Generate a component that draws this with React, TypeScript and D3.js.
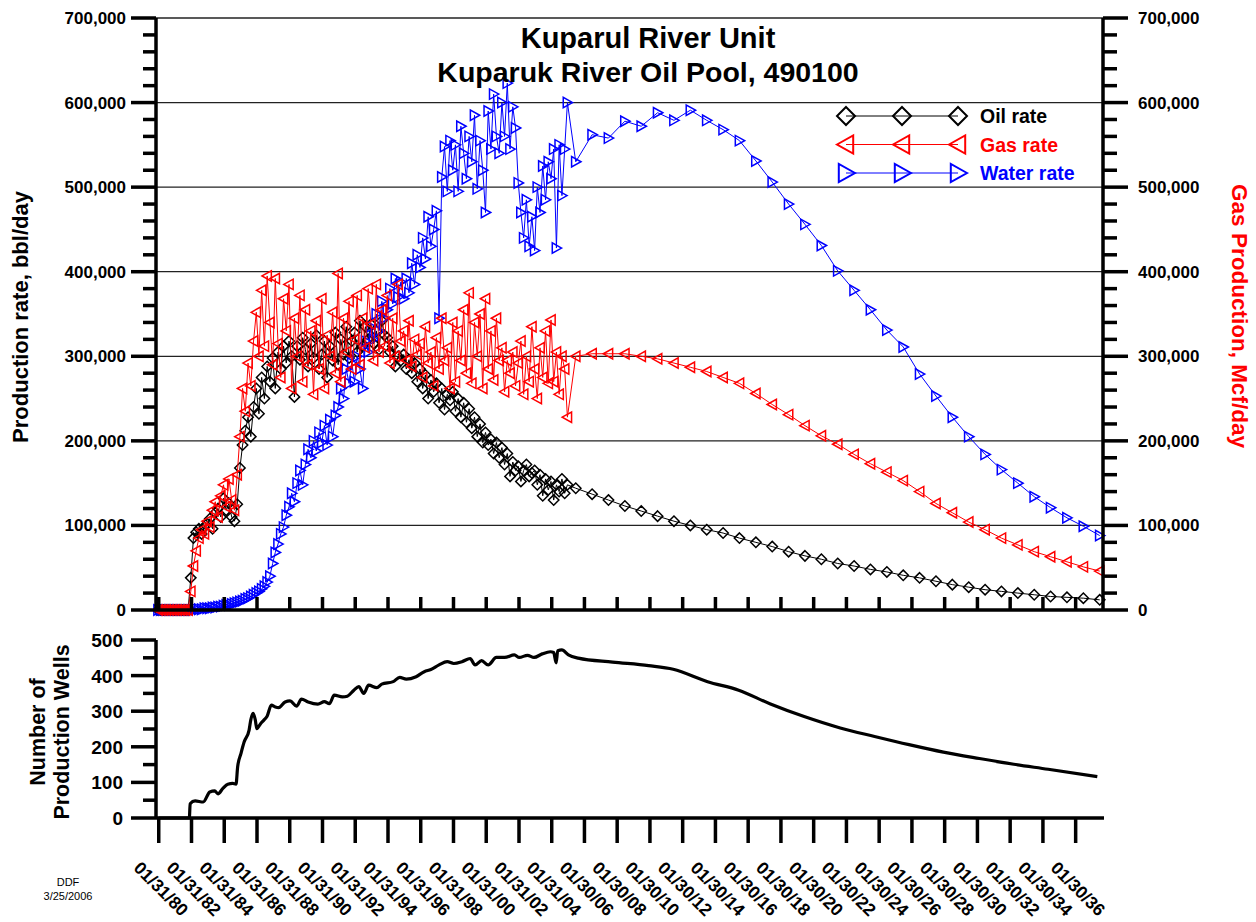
import React, { useEffect, useRef } from "react";
import * as d3 from "d3";

// x tick labels (every two years)
const tickLabels = [
  "01/31/80", "01/31/82", "01/31/84", "01/31/86", "01/31/88", "01/31/90", "01/31/92",
  "01/31/94", "01/31/96", "01/31/98", "01/31/00", "01/31/02", "01/31/04",
  "01/30/06", "01/30/08", "01/30/10", "01/30/12", "01/30/14", "01/30/16", "01/30/18",
  "01/30/20", "01/30/22", "01/30/24", "01/30/26", "01/30/28", "01/30/30", "01/30/32",
  "01/30/34", "01/30/36",
];

// history, one value every two months from Jan 1980 (thousands per day)
const oilHist = [
  0, 0, 0, 0, 0, 0,
  0, 0, 0, 0, 0, 0,
  38, 85, 92, 96, 90, 98,
  102, 108, 96, 115, 120, 110,
  132, 118, 126, 110, 105, 125,
  168, 195, 212, 228, 205, 240,
  262, 232, 275, 250, 288, 270,
  298, 262, 305, 285, 312, 292,
  318, 300, 252, 312, 296, 322,
  308, 288, 315, 298, 325, 285,
  302, 318, 275, 312, 295, 328,
  290, 320, 302, 335, 298, 318,
  328, 305, 342, 312, 335, 320,
  338, 315, 330, 308, 342, 325,
  322, 305, 312, 288, 300, 295,
  302, 285, 296, 280, 292, 270,
  285, 262, 278, 250, 272, 258,
  268, 245, 262, 237, 255, 248,
  258, 235, 250, 228, 245, 222,
  238, 215, 228, 205, 220, 198,
  210, 195, 202, 185, 198, 180,
  192, 172, 185, 158, 175, 165,
  170, 152, 165, 172, 158, 162,
  165, 148, 160, 135, 155, 142,
  152, 130, 148, 140, 155, 138,
  148,
];

const gasHist = [
  0, 0, 0, 0, 0, 0,
  0, 0, 0, 0, 0, 0,
  22, 52, 70, 85, 95, 90,
  105, 98, 118, 128, 110, 135,
  148, 122, 155, 130, 118, 160,
  205, 262, 235, 292, 265, 318,
  352, 300, 378, 312, 395, 340,
  290, 392, 315, 275, 368, 330,
  385, 262, 345, 300, 372, 270,
  355, 290, 330, 255, 342, 285,
  368, 262, 325, 300, 352, 280,
  398, 270, 345, 305, 365, 285,
  320, 372, 290, 345, 310, 380,
  338, 295, 385, 305, 355, 312,
  372, 292, 345, 300, 385, 318,
  330, 295, 342, 288, 320, 302,
  315, 275, 335, 292, 305, 265,
  322, 285, 345, 295, 310, 262,
  340, 270, 330, 295, 355, 280,
  375, 268, 340, 300, 350, 262,
  368, 285, 330, 272, 345, 295,
  310, 258, 295, 280, 305, 265,
  292, 318, 255, 300, 270, 335,
  285, 250, 310, 275, 330, 268,
  343, 270, 305, 255, 300, 285,
  228,
];

const waterHist = [
  0, 0, 0, 0, 0, 0,
  0, 0, 0, 0, 0, 0,
  0, 0, 1, 1, 1, 2,
  2, 2, 3, 3, 4, 4,
  5, 6, 6, 7, 8, 9,
  10, 11, 13, 14, 16, 18,
  20, 22, 25, 28, 33, 40,
  55, 68, 78, 90, 98, 112,
  122, 138, 128, 150, 165, 148,
  172, 190, 180, 200, 188, 210,
  198, 218, 195, 225, 205, 230,
  240, 262, 250, 285, 268, 292,
  270, 300, 285, 262, 318, 305,
  335, 320, 350, 330, 365, 345,
  355, 380, 362, 392, 370, 388,
  368, 392, 375, 410, 385, 420,
  405, 440, 415, 465, 430, 450,
  472, 345, 512, 548, 495, 555,
  520, 550, 495, 572, 540, 510,
  560, 530, 585, 498, 555, 520,
  470, 590, 545, 610, 560, 540,
  600, 560, 623, 545, 595, 570,
  505, 470, 440, 485, 430, 465,
  425, 500, 470, 525, 485, 530,
  510, 545, 428, 550, 490, 545,
  600,
];

// forecast, one value per year from mid 2005
const oilFcst = [
  144, 137, 130, 123, 117, 111, 105, 100, 95, 91, 85, 80, 75, 69, 64, 60, 55,
  52, 48, 45, 41, 38, 34, 30, 27, 24, 22, 20, 18, 16, 15, 14, 12,
];
const gasFcst = [
  300, 303, 303, 303, 300, 297, 292, 287, 282, 275, 268, 256, 243, 231, 218, 206, 196,
  184, 173, 163, 153, 140, 126, 115, 104, 95, 85, 77, 69, 63, 57, 51, 46,
];
const waterFcst = [
  530, 562, 558, 578, 572, 588, 579, 591, 579, 568, 555, 531, 506, 480, 456, 431, 401,
  378, 355, 331, 311, 279, 253, 228, 205, 184, 166, 150, 134, 121, 109, 99, 88,
];

// number of production wells
const wellYears = [
  1980.08, 1981.95, 1982.0, 1982.3, 1982.8, 1983.2, 1983.5, 1983.7, 1984.0, 1984.3,
  1984.6, 1984.8, 1984.9, 1985.1, 1985.3, 1985.6, 1985.7, 1985.84, 1985.98, 1986.07,
  1986.3, 1986.5, 1986.7, 1986.96, 1987.2, 1987.4, 1987.8, 1988.1, 1988.5, 1988.8,
  1989.2, 1989.8, 1990.2, 1990.5, 1990.8, 1991.3, 1991.6, 1992.0, 1992.3, 1992.6,
  1992.9, 1993.4, 1993.7, 1994.4, 1994.8, 1995.2, 1995.8, 1996.3, 1996.7, 1997.2,
  1997.7, 1998.1, 1998.6, 1999.1, 1999.4, 1999.8, 2000.2, 2000.7, 2001.2, 2001.8,
  2002.1, 2002.6, 2003.0, 2003.5, 2004.0, 2004.2, 2004.35, 2004.45, 2004.7, 2005.1,
  2005.7, 2007.8, 2010.0, 2011.5, 2013.6, 2015.5, 2017.4, 2019.5, 2021.7, 2023.8,
  2025.9, 2028.0, 2030.2, 2032.3, 2034.4, 2037.4,
];
const wellCounts = [
  0, 0, 40, 48, 45, 73, 76, 68, 83, 95,
  97, 95, 144, 181, 214, 247, 275, 294, 275, 251,
  265, 275, 286, 317, 312, 310, 326, 329, 314, 334,
  326, 320, 327, 321, 345, 340, 342, 359, 369, 350,
  373, 366, 376, 383, 395, 390, 397, 411, 417, 430,
  439, 434, 439, 448, 430, 442, 430, 451, 451, 458,
  451, 457, 451, 461, 467, 465, 436, 470, 472, 458,
  449, 438, 428, 418, 383, 359, 321, 285, 253, 229,
  206, 185, 167, 151, 137, 116,
];

const FONT = "'Liberation Sans', Arial, Helvetica, sans-serif";

function yearToDate(y: number) {
  const yr = Math.floor(y);
  const a = +new Date(yr, 0, 1);
  const b = +new Date(yr + 1, 0, 1);
  return new Date(a + (y - yr) * (b - a));
}

const diamond = (r: number) => `M0,${-r}L${r},0L0,${r}L${-r},0Z`;
const triLeft = (r: number) => `M${-r},0L${r * 0.8},${-r}L${r * 0.8},${r}Z`;
const triRight = (r: number) => `M${r},0L${-r * 0.8},${-r}L${-r * 0.8},${r}Z`;

export default function App() {
  const ref = useRef<SVGSVGElement>(null);

  useEffect(() => {
    const svg = d3.select(ref.current);
    svg.selectAll("*").remove();

    const x = d3
      .scaleTime()
      .domain([new Date(1979, 11, 1), new Date(2037, 9, 1)])
      .range([156, 1103]);
    const y = d3.scaleLinear().domain([0, 700000]).range([610, 18]);
    const yw = d3.scaleLinear().domain([0, 500]).range([818, 640]);

    const parse = d3.timeParse("%m/%d/%y");
    const tickDates = tickLabels.map(s => parse(s) as Date);

    const histDates = oilHist.map((_, i) => new Date(1980, i * 2, 15));
    const fcstDates = oilFcst.map((_, i) => new Date(2005 + i, 6, 20));

    const build = (hist: number[], fcst: number[]) =>
      hist
        .map((v, i) => ({ d: histDates[i], v: v * 1000 }))
        .concat(fcst.map((v, i) => ({ d: fcstDates[i], v: v * 1000 })));

    const series = [
      { name: "Oil rate", color: "#000000", data: build(oilHist, oilFcst), mark: diamond },
      { name: "Water rate", color: "#0000ff", data: build(waterHist, waterFcst), mark: triRight },
      { name: "Gas rate", color: "#ff0000", data: build(gasHist, gasFcst), mark: triLeft },
    ];

    // grid lines
    const g = svg.append("g");
    g.selectAll(".grid")
      .data(d3.range(100000, 700001, 100000))
      .enter()
      .append("line")
      .attr("x1", 156)
      .attr("x2", 1103)
      .attr("y1", d => y(d))
      .attr("y2", d => y(d))
      .attr("stroke", "#222")
      .attr("stroke-width", 1.3);

    // series
    const line = d3
      .line<{ d: Date; v: number }>()
      .x(p => x(p.d))
      .y(p => y(p.v));

    series.forEach(s => {
      const sg = g.append("g");
      sg.append("path")
        .attr("d", line(s.data))
        .attr("fill", "none")
        .attr("stroke", s.color)
        .attr("stroke-width", 1);
      sg.selectAll("path.m")
        .data(s.data)
        .enter()
        .append("path")
        .attr("class", "m")
        .attr("d", s.mark(5.2))
        .attr("transform", p => `translate(${x(p.d)},${y(p.v)})`)
        .attr("fill", "none")
        .attr("stroke", s.color)
        .attr("stroke-width", 1.5);
    });

    // axes of top panel
    const axis = svg.append("g").attr("stroke", "#000").attr("stroke-width", 3.5);
    axis.append("line").attr("x1", 156).attr("x2", 156).attr("y1", 18).attr("y2", 611);
    axis.append("line").attr("x1", 1103).attr("x2", 1103).attr("y1", 18).attr("y2", 611);
    axis.append("line").attr("x1", 156).attr("x2", 1103).attr("y1", 610).attr("y2", 610);

    const minorY = d3.range(0, 700001, 20000);
    minorY.forEach(v => {
      const major = v % 100000 === 0;
      axis.append("line")
        .attr("x1", major ? 131 : 143).attr("x2", 156)
        .attr("y1", y(v)).attr("y2", y(v));
      axis.append("line")
        .attr("x1", 1103).attr("x2", major ? 1128 : 1117)
        .attr("y1", y(v)).attr("y2", y(v));
    });
    tickDates.forEach(d => {
      axis.append("line")
        .attr("x1", x(d)).attr("x2", x(d))
        .attr("y1", 610).attr("y2", 597);
    });

    const fmt = d3.format(",");
    const labels = svg.append("g").attr("font-family", FONT).attr("font-weight", "bold");
    d3.range(0, 700001, 100000).forEach(v => {
      labels.append("text")
        .attr("x", 126).attr("y", y(v) + 6)
        .attr("text-anchor", "end").attr("font-size", 17)
        .text(fmt(v));
      labels.append("text")
        .attr("x", 1138).attr("y", y(v) + 6)
        .attr("font-size", 17)
        .text(fmt(v));
    });

    labels.append("text")
      .attr("transform", "translate(28,317) rotate(-90)")
      .attr("text-anchor", "middle").attr("font-size", 22)
      .text("Production rate, bbl/day");
    labels.append("text")
      .attr("transform", "translate(1232,316) rotate(90)")
      .attr("text-anchor", "middle").attr("font-size", 22.5)
      .attr("fill", "#ff0000")
      .text("Gas Production, Mcf/day");

    labels.append("text")
      .attr("x", 648).attr("y", 48)
      .attr("text-anchor", "middle").attr("font-size", 29)
      .text("Kuparul River Unit");
    labels.append("text")
      .attr("x", 648).attr("y", 82)
      .attr("text-anchor", "middle").attr("font-size", 28.5)
      .text("Kuparuk River Oil Pool, 490100");

    // legend
    const legendSeries = [series[0], series[2], series[1]];
    legendSeries.forEach((s, i) => {
      const ly = 116 + i * 28.5;
      const lg = svg.append("g");
      lg.append("line")
        .attr("x1", 846).attr("x2", 958)
        .attr("y1", ly).attr("y2", ly)
        .attr("stroke", s.color).attr("stroke-width", 1);
      [846, 902, 958].forEach(lx => {
        lg.append("path")
          .attr("d", s.mark(9))
          .attr("transform", `translate(${lx},${ly})`)
          .attr("fill", "none")
          .attr("stroke", s.color)
          .attr("stroke-width", 2);
      });
      lg.append("text")
        .attr("x", 980).attr("y", ly + 7)
        .attr("font-family", FONT).attr("font-weight", "bold")
        .attr("font-size", 19.5)
        .attr("fill", s.color)
        .text(s.name);
    });

    // bottom panel: wells
    const wells = wellYears.map((yr, i) => ({ d: yearToDate(yr), v: wellCounts[i] }));
    svg.append("path")
      .attr("d", d3.line<{ d: Date; v: number }>().x(p => x(p.d)).y(p => yw(p.v)).curve(d3.curveMonotoneX)(wells))
      .attr("fill", "none")
      .attr("stroke", "#000")
      .attr("stroke-width", 3.2)
      .attr("stroke-linejoin", "round");

    const axis2 = svg.append("g").attr("stroke", "#000").attr("stroke-width", 3.5);
    axis2.append("line").attr("x1", 156).attr("x2", 156).attr("y1", 640).attr("y2", 819);
    axis2.append("line").attr("x1", 156).attr("x2", 1104).attr("y1", 818).attr("y2", 818);
    d3.range(0, 501, 50).forEach(v => {
      const major = v % 100 === 0;
      axis2.append("line")
        .attr("x1", major ? 131 : 143).attr("x2", 156)
        .attr("y1", yw(v)).attr("y2", yw(v));
      if (major) {
        labels.append("text")
          .attr("x", 123).attr("y", yw(v) + 7)
          .attr("text-anchor", "end").attr("font-size", 19)
          .text(v);
      }
    });
    tickDates.forEach((d, i) => {
      axis2.append("line")
        .attr("x1", x(d)).attr("x2", x(d))
        .attr("y1", 818).attr("y2", 843);
      labels.append("text")
        .attr("transform", `translate(${x(d) - 26},${869}) rotate(45)`)
        .attr("font-size", 17.5)
        .text(tickLabels[i]);
    });

    labels.append("text")
      .attr("transform", "translate(45,732) rotate(-90)")
      .attr("text-anchor", "middle").attr("font-size", 21.5)
      .text("Number of");
    labels.append("text")
      .attr("transform", "translate(69,732) rotate(-90)")
      .attr("text-anchor", "middle").attr("font-size", 21.5)
      .text("Production Wells");

    const foot = svg.append("g").attr("font-family", FONT).attr("font-size", 11).attr("text-anchor", "middle");
    foot.append("text").attr("x", 68).attr("y", 886).text("DDF");
    foot.append("text").attr("x", 68).attr("y", 900).text("3/25/2006");
  }, []);

  return (
    <svg
      ref={ref}
      width={1256}
      height={922}
      style={{ position: "absolute", left: 0, top: 0, background: "#fff" }}
    />
  );
}
